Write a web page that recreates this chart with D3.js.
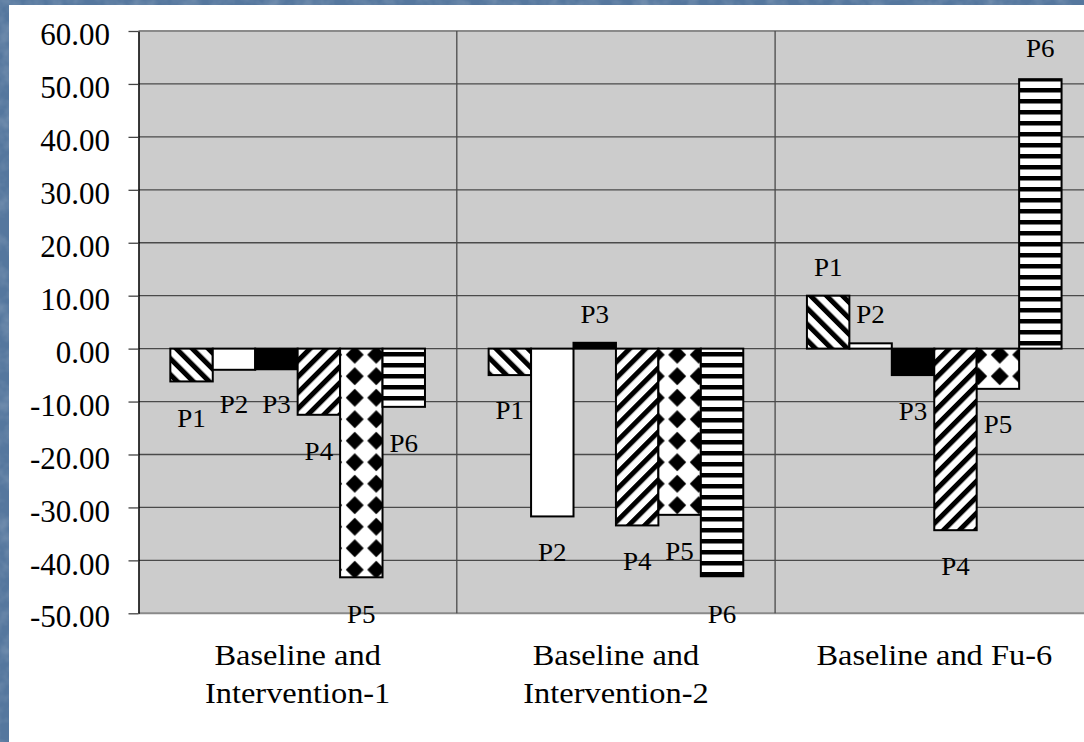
<!DOCTYPE html>
<html>
<head>
<meta charset="utf-8">
<script src="https://cdn.jsdelivr.net/npm/d3@7"></script>
<style>
  html, body { margin: 0; padding: 0; background: #55779e; overflow: hidden; }
  svg { display: block; }
</style>
</head>
<body>
<svg id="chart" width="1084" height="742"></svg>
<script>
// ---- data ----
const categories = ["Baseline and\nIntervention-1", "Baseline and\nIntervention-2", "Baseline and Fu-6"];
const series = ["P1", "P2", "P3", "P4", "P5", "P6"];

// change scores per participant, one value per comparison
const valuesP1 = [-6.2, -5.0, 10.0];
const valuesP2 = [-4.0, -31.7, 1.0];
const valuesP3 = [-3.9, 1.1, -5.0];
const valuesP4 = [-12.5, -33.4, -34.3];
const valuesP5 = [-43.2, -31.4, -7.6];
const valuesP6 = [-11.0, -43.0, 50.9];

// where each data label sits (baseline, in axis units)
const labelYP1 = [-14.75, -13.3, 13.8];
const labelYP2 = [-12.2, -40.1, 4.9];
const labelYP3 = [-12.2, 4.8, -13.4];
const labelYP4 = [-21.0, -41.8, -42.8];
const labelYP5 = [-51.9, -39.9, -15.9];
const labelYP6 = [-19.5, -51.8, 55.1];

const tickValues = [60, 50, 40, 30, 20, 10, 0, -10, -20, -30, -40, -50];
const tickLabels = ["60.00", "50.00", "40.00", "30.00", "20.00", "10.00", "0.00",
                    "-10.00", "-20.00", "-30.00", "-40.00", "-50.00"];

const seriesValues = [valuesP1, valuesP2, valuesP3, valuesP4, valuesP5, valuesP6];
const seriesLabelY = [labelYP1, labelYP2, labelYP3, labelYP4, labelYP5, labelYP6];

// ---- styling ----
const W = 1084, H = 742;
const FONT = "'Liberation Serif', 'Times New Roman', serif";
const seriesFill = ["url(#hatchDown)", "#ffffff", "#000000", "url(#hatchUp)", "url(#diamonds)", "url(#hStripes)"];

const svg = d3.select("#chart");
const defs = svg.append("defs");

// slide texture
const tex = defs.append("filter").attr("id", "tex").attr("x", 0).attr("y", 0).attr("width", 1).attr("height", 1);
tex.append("feTurbulence").attr("type", "fractalNoise").attr("baseFrequency", 0.06)
   .attr("numOctaves", 3).attr("seed", 7);
tex.append("feColorMatrix").attr("type", "matrix")
   .attr("values", "0 0 0 0 1  0 0 0 0 1  0 0 0 0 1  1.4 0 0 0 -0.55");

// fill patterns
function stripePattern(id, angle) {
  const s = 11.3;
  const p = defs.append("pattern").attr("id", id).attr("patternUnits", "userSpaceOnUse")
    .attr("width", s).attr("height", s).attr("patternTransform", `rotate(${angle})`);
  p.append("rect").attr("width", s).attr("height", s).attr("fill", "#fff");
  p.append("rect").attr("width", 5).attr("height", s).attr("fill", "#000");
}
stripePattern("hatchDown", -45);
stripePattern("hatchUp", 45);

{
  const s = 21.5, r = 9;
  const p = defs.append("pattern").attr("id", "diamonds").attr("patternUnits", "userSpaceOnUse")
    .attr("width", s).attr("height", s);
  p.append("rect").attr("width", s).attr("height", s).attr("fill", "#fff");
  const c = s / 2;
  p.append("path").attr("d", `M${c},${c - r}L${c + r},${c}L${c},${c + r}L${c - r},${c}Z`).attr("fill", "#000");
}
{
  const p = defs.append("pattern").attr("id", "hStripes").attr("patternUnits", "userSpaceOnUse")
    .attr("width", 10).attr("height", 11);
  p.append("rect").attr("width", 10).attr("height", 11).attr("fill", "#fff");
  p.append("rect").attr("width", 10).attr("height", 4.5).attr("fill", "#000");
}

// background + white panel
svg.append("rect").attr("width", W).attr("height", H).attr("fill", "#55779e");
svg.append("rect").attr("width", W).attr("height", H).attr("fill", "#fff")
   .attr("filter", "url(#tex)").attr("opacity", 0.25);
svg.append("rect").attr("x", 9).attr("y", 5).attr("width", W - 9).attr("height", H - 5).attr("fill", "#ffffff");

// ---- scales ----
const plot = { left: 138.5, top: 31, bottom: 613.3, catWidth: 318.3 };
const plotRight = plot.left + plot.catWidth * categories.length;

const x0 = d3.scaleBand().domain(categories).range([plot.left, plotRight]);
const x1 = d3.scaleBand().domain(series).range([0, x0.bandwidth()]).paddingInner(0).paddingOuter(0.75);
const y = d3.scaleLinear().domain([-50, 60]).range([plot.bottom, plot.top]);

// plot area
svg.append("rect").attr("x", plot.left).attr("y", y(60))
   .attr("width", plotRight - plot.left).attr("height", y(-50) - y(60)).attr("fill", "#cccccc");

// horizontal gridlines
svg.append("g").selectAll("line").data(tickValues).join("line")
  .attr("x1", plot.left).attr("x2", plotRight)
  .attr("y1", d => y(d)).attr("y2", d => y(d))
  .attr("stroke", d => (d === 60 || d === -50) ? "#8a8a8a" : "#4a4a4a")
  .attr("stroke-width", d => (d === 60 || d === -50) ? 2 : 1.3);

// category separators
svg.append("g").selectAll("line").data(categories.slice(1)).join("line")
  .attr("x1", d => x0(d)).attr("x2", d => x0(d))
  .attr("y1", y(60)).attr("y2", y(-50))
  .attr("stroke", "#4a4a4a").attr("stroke-width", 1.3);

// y axis
const yAxis = d3.axisLeft(y).tickValues(tickValues).tickSize(10).tickSizeOuter(0).tickPadding(18.5)
  .tickFormat((d, i) => tickLabels[i]);
const gy = svg.append("g").attr("transform", `translate(${plot.left},0)`).call(yAxis);
gy.select(".domain").attr("stroke", "#000").attr("stroke-width", 1.5);
gy.selectAll(".tick line").attr("stroke", "#444").attr("stroke-width", 1.3);
gy.selectAll(".tick text").attr("font-family", FONT).attr("font-size", 31).attr("fill", "#000").attr("dy", "0.44em");

// bars
const barData = [];
series.forEach((s, si) => {
  categories.forEach((c, ci) => {
    barData.push({ s, si, c, v: seriesValues[si][ci], ly: seriesLabelY[si][ci] });
  });
});

svg.append("g").selectAll("rect").data(barData).join("rect")
  .attr("x", d => x0(d.c) + x1(d.s))
  .attr("width", x1.bandwidth())
  .attr("y", d => y(Math.max(0, d.v)))
  .attr("height", d => Math.abs(y(d.v) - y(0)))
  .attr("fill", d => seriesFill[d.si])
  .attr("stroke", "#000").attr("stroke-width", 2);

// data labels
svg.append("g").selectAll("text").data(barData).join("text")
  .attr("transform", d => `translate(${x0(d.c) + x1(d.s) + x1.bandwidth() / 2},${y(d.ly)}) scale(1.04,1)`)
  .attr("text-anchor", "middle")
  .attr("font-family", FONT).attr("font-size", 26).attr("fill", "#000")
  .text(d => d.s);

// category labels (slightly wide-set type)
const catG = svg.append("g").selectAll("text").data(categories).join("text")
  .attr("transform", d => `translate(${x0(d) + x0.bandwidth() / 2},665) scale(1.08,1)`)
  .attr("text-anchor", "middle")
  .attr("font-family", FONT).attr("font-size", 30).attr("fill", "#000");
catG.selectAll("tspan").data(d => d.split("\n")).join("tspan")
  .attr("x", 0)
  .attr("dy", (d, i) => i === 0 ? 0 : 38)
  .text(d => d);
</script>
</body>
</html>
